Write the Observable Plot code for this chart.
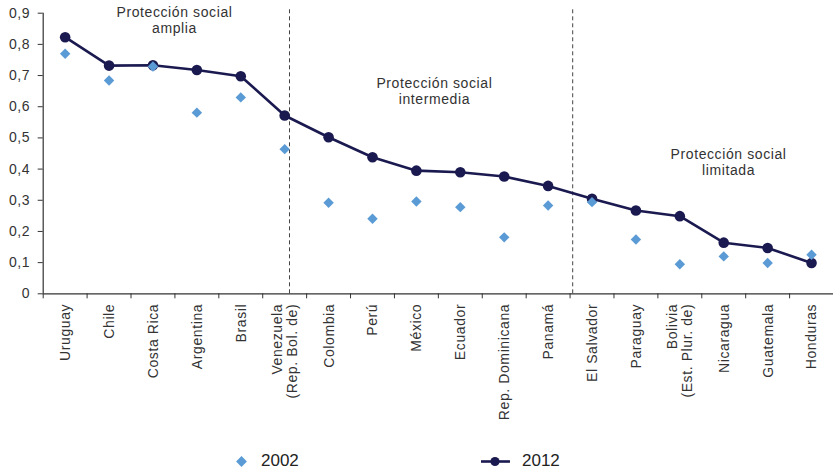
<!DOCTYPE html>
<html>
<head>
<meta charset="utf-8">
<script src="https://cdn.jsdelivr.net/npm/d3@7"></script>
<script src="https://cdn.jsdelivr.net/npm/@observablehq/plot@0.6"></script>
<style>
  html, body { margin: 0; padding: 0; background: #fff; }
  body { width: 833px; height: 474px; position: relative; overflow: hidden; font-family: "Liberation Sans", Arial, sans-serif; }
  #chart svg { display: block; }
  #chart svg text { letter-spacing: 0.6px; }
  .legend { position: absolute; left: 0; top: 448px; width: 833px; height: 26px; font-size: 17px; color: #222; }
  .legend .item { position: absolute; top: 0; height: 26px; display: flex; align-items: center; }
  .legend svg { display: block; }
</style>
</head>
<body>
<div id="chart"></div>
<div class="legend">
  <div class="item" style="left:235px">
    <svg width="13" height="13" viewBox="-6.5 -6.5 13 13"><path d="M0,-5.4L5.4,0L0,5.4L-5.4,0Z" fill="#5B9BD5"></path></svg>
    <span style="margin-left:13px">2002</span>
  </div>
  <div class="item" style="left:481px">
    <svg width="29" height="13" viewBox="0 -6.5 29 13"><line x1="0" x2="29" y1="0" y2="0" stroke="#1B1A50" stroke-width="2.6"></line><circle cx="14" cy="0" r="4.6" fill="#1B1A50"></circle></svg>
    <span style="margin-left:12px">2012</span>
  </div>
</div>
<script>
// Countries, ordered by level of social protection
const countries = [
  "Uruguay", "Chile", "Costa Rica", "Argentina", "Brasil",
  "Venezuela\n(Rep. Bol. de)", "Colombia", "Perú", "México", "Ecuador",
  "Rep. Dominicana", "Panamá", "El Salvador", "Paraguay",
  "Bolivia\n(Est. Plur. de)", "Nicaragua", "Guatemala", "Honduras"
];

// Index values per year
const values2002 = [0.770, 0.684, 0.729, 0.581, 0.630, 0.464, 0.292, 0.241, 0.296,
                    0.278, 0.181, 0.283, 0.294, 0.174, 0.095, 0.120, 0.099, 0.125];
const values2012 = [0.823, 0.732, 0.733, 0.718, 0.698, 0.572, 0.502, 0.438, 0.395,
                    0.390, 0.376, 0.346, 0.305, 0.267, 0.249, 0.164, 0.147, 0.099];

// Y-axis ticks
const yTicks = [0, 0.1, 0.2, 0.3, 0.4, 0.5, 0.6, 0.7, 0.8, 0.9];

// Group headings and the dividers between groups (in category-index units)
const groupNames = ["Protección social\namplia", "Protección social\nintermedia", "Protección social\nlimitada"];
const groupNoteX = [2.49, 8.41, 15.11];
const groupNoteY = [0.879, 0.652, 0.424];
const dividers = [5.11, 11.56];

const rows2002 = countries.map((c, i) => ({i, v: values2002[i]}));
const rows2012 = countries.map((c, i) => ({i, v: values2012[i]}));
const notes = groupNames.map((t, k) => ({t, x: groupNoteX[k], y: groupNoteY[k]}));
const boundaries = d3.range(countries.length + 1).map(k => k - 0.5);

const fmt = d => d === 0 ? "0" : d.toFixed(1).replace(".", ",");
const ink = "#333";
const light = "#5B9BD5";
const navy = "#1B1A50";

const chart = Plot.plot({
  width: 833,
  height: 440,
  marginLeft: 42.7,
  marginRight: 0,
  marginTop: 12.7,
  marginBottom: 146.7,
  style: {fontFamily: "'Liberation Sans', Arial, sans-serif", fontSize: "14px", color: ink, background: "#fff"},
  x: {type: "linear", domain: [-0.5, countries.length - 0.5], label: null},
  y: {domain: [0, 0.9], label: null},
  marks: [
    // dashed group dividers
    Plot.ruleX(dividers, {y1: 0, y2: 0.918, stroke: "#444", strokeWidth: 1, strokeDasharray: "4,3"}),
    // axes
    Plot.ruleX([-0.5], {y1: 0, y2: 0.9, stroke: ink, strokeWidth: 1.2}),
    Plot.ruleY([0], {stroke: ink, strokeWidth: 1.2}),
    Plot.axisY(yTicks, {tickSize: 5, tickPadding: 8, tickFormat: fmt, fontSize: 14, stroke: ink, fill: ink}),
    Plot.axisX(boundaries, {tickSize: 5, tickFormat: () => "", stroke: ink}),
    Plot.text(countries, {
      x: (d, i) => i, frameAnchor: "bottom", dy: 10,
      text: d => d, rotate: -90, textAnchor: "end", lineAnchor: "middle",
      fontSize: 14, fill: ink, lineHeight: 1.1
    }),
    // group headings
    Plot.text(notes, {x: "x", y: "y", text: "t", fontSize: 14, fill: ink, lineAnchor: "middle", lineHeight: 1.15}),
    // 2012 series
    Plot.line(rows2012, {x: "i", y: "v", stroke: navy, strokeWidth: 2.6}),
    Plot.dot(rows2012, {x: "i", y: "v", r: 5.3, fill: navy, symbol: "circle"}),
    // 2002 series
    Plot.dot(rows2002, {x: "i", y: "v", r: 4.7, fill: light, symbol: "diamond2"})
  ]
});

document.getElementById("chart").append(chart);
</script>
</body>
</html>
